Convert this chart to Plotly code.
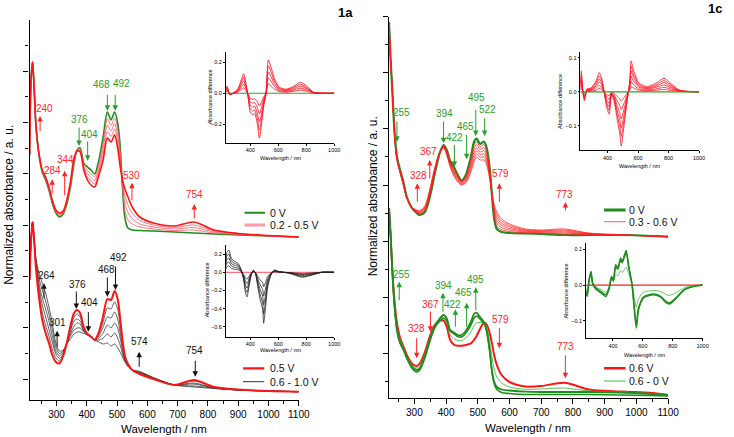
import plotly.graph_objects as go

# ---------------- data (normalized absorbance, a.u.; offset stacks) ----------------
L_WL = [211, 216, 221, 226, 232, 242, 253, 264, 275, 286, 298, 310, 322, 334, 346, 358, 368, 378, 390, 402,
        414, 426, 440, 454, 468, 480, 492, 502, 510, 518, 526, 536, 550, 575, 620, 690, 754, 820, 900, 1000, 1100]
LT_0V = [245, 320, 338, 313, 275, 245, 228, 220, 210, 197, 187, 183, 186, 196, 213, 237, 250, 252, 237, 233,
         230, 226, 240, 263, 288, 280, 288, 277, 255, 212, 182, 172, 170, 169.5, 169, 168, 167, 166, 165, 164, 163]
LT_02V = [245, 320, 338, 313, 275, 245.5, 228.5, 221, 211, 198, 188, 184, 187, 197, 214, 238, 250, 251, 235, 230,
          226, 223, 236, 257, 281.5, 274.5, 282, 271, 250, 214, 189, 180, 176, 173, 171, 169.5, 170, 167, 165.5, 164, 163]
LT_03V = [245, 320, 338, 313, 275, 246, 229, 221.5, 211.5, 198.5, 188.5, 185, 187.5, 198, 215.5, 239.5, 249.5, 250, 233.5, 226.5,
          222.5, 219.5, 232.5, 251.5, 275, 269, 276.5, 264.5, 244.5, 216, 196.5, 187.5, 181.5, 176, 173, 171, 172.5, 168, 166, 164, 163]
LT_04V = [245, 320, 338, 313, 275, 246.5, 229.5, 222, 212, 199, 189, 186, 188, 199, 217, 241, 249, 249, 232, 223,
          219, 216, 229, 246, 268.5, 263.5, 271, 258, 239, 218, 204, 195, 187, 179.5, 175, 172.5, 175, 169, 166.5, 164, 163]
LT_05V = [245, 320, 338, 313, 275, 247, 230, 223, 213, 200, 190, 187, 189, 200, 218, 242, 249, 248, 230, 220,
          215, 213, 225, 240, 262, 258, 265, 252, 234, 220, 211, 203, 193, 183, 177, 174, 178, 170, 166.5, 164.5, 163]

LB_05V = [120, 160, 178, 160, 132, 103, 80, 67, 57, 45, 38, 36.5, 44, 57, 74, 87, 90, 87, 73, 66,
          63.5, 60, 68, 84, 101, 100, 109, 101, 82, 60, 44, 36, 30, 26, 21, 15, 20, 13, 10.5, 9, 8.3]
LB_06V = [120, 160, 178, 160, 134, 108, 87, 75, 64, 51, 42, 39, 45, 57, 71, 83, 86, 83, 72, 66,
          63.5, 60, 66, 78, 92, 91, 98, 91, 75, 57, 43, 35.5, 30, 26.5, 21, 15, 19, 13, 10.5, 9, 8.3]
LB_07V = [120, 160, 178, 161, 136, 113, 95, 83, 71, 58, 46, 41.5, 46, 57, 69, 79, 81, 79, 70, 65.5,
          63.5, 60, 64, 73, 83, 82, 88, 81, 68, 53, 42, 35, 30, 27, 21.5, 15, 17, 12, 10, 9, 8.3]
LB_08V = [120, 160, 178, 161, 138, 117, 102, 91, 79, 64, 49, 44, 48, 56, 66, 74, 77, 76, 69, 65.5,
          63, 60, 62, 67, 75, 72, 77, 72, 62, 50, 40, 34.5, 30, 27.5, 22, 15, 16, 12, 10, 9, 8.3]
LB_09V = [120, 160, 178, 162, 140, 122, 110, 99, 86, 71, 53, 46.5, 49, 56, 64, 70, 72, 72, 68, 65,
          63, 60, 60, 62, 66, 63, 67, 62, 55, 46, 39, 34, 30, 28, 22, 15, 14, 12, 10, 9, 8.3]
LB_10V = [120, 160, 178, 162, 142, 127, 117, 107, 93, 77, 57, 49, 50, 56, 61, 66, 68, 68, 66.5, 65,
          63, 60, 58, 56, 57, 54, 56, 52, 48, 43, 38, 33.5, 30, 28.5, 22.5, 15, 13, 11.5, 10, 9, 8.3]

R_WL = [220, 225, 230, 237, 245, 255, 266, 276, 292, 307, 317, 333, 348, 364, 380, 392, 402, 413, 426, 437,
        449, 462, 478, 488, 496, 507, 519, 528, 538, 545, 552, 560, 575, 600, 650, 700, 774, 850, 950, 1050, 1100]
RT_0V = [376, 338, 310, 268, 241, 228, 215, 201, 190, 185, 183, 186, 200, 224, 245, 253, 248, 237, 230, 223,
         217.3, 223, 241, 256, 259.5, 254, 256.5, 250, 228, 201, 178, 169, 166, 165, 164.5, 164, 163, 163, 163, 162, 161.3]
RT_S1 = [376, 338, 310, 267.7, 240.5, 227.5, 214.5, 201, 190.2, 185.5, 183.75, 187, 201.3, 225, 245.2, 252.5, 247.2, 236, 228.5, 221.8,
         216.6, 221.7, 238.5, 252.7, 256.4, 251.3, 253.4, 247.2, 226.3, 201.3, 180.5, 171.8, 168.2, 166.5, 165.25, 164.7, 164, 163.3, 163, 162, 161.3]
RT_S2 = [376, 338, 310, 267.3, 240, 227, 214, 201, 190.3, 186, 184.5, 188, 202.7, 226, 245.3, 252, 246.3, 235, 227, 220.7,
         215.9, 220.3, 236, 249.3, 253.3, 248.7, 250.3, 244.3, 224.7, 201.7, 183, 174.7, 170.3, 168, 166, 165.3, 165, 163.7, 163, 162, 161.3]
RT_S3 = [376, 338, 310, 267, 239.5, 226.5, 213.5, 200.5, 190.5, 186.5, 185.25, 189, 204, 227, 245.5, 251.5, 245.5, 234, 225.5, 219.5,
         215.2, 219, 233.5, 246, 250.25, 246, 247.25, 241.5, 223, 202, 185.5, 177.5, 172.5, 169.5, 166.75, 166, 166, 164, 163, 162, 161.3]
RT_S4 = [376, 338, 310, 266.7, 239, 226, 213, 200.5, 190.7, 187, 186, 190, 205.3, 228, 245.7, 251, 244.7, 233, 224, 218.3,
         214.4, 217.7, 231, 242.7, 247.2, 243.3, 244.2, 238.7, 221.3, 202.3, 188, 180.3, 174.7, 171, 167.5, 166.7, 167, 164.3, 163, 162, 161.3]
RT_S5 = [376, 338, 310, 266.3, 238.5, 225.5, 212.5, 200.2, 190.8, 187.5, 186.75, 191, 206.7, 229, 245.8, 250.5, 243.8, 232, 222.5, 217.2,
         213.7, 216.3, 228.5, 239.3, 244.1, 240.7, 241.1, 235.8, 219.7, 202.7, 190.5, 183.2, 176.8, 172.5, 168.25, 167.3, 168, 164.7, 163, 162, 161.3]
RT_S6 = [376, 338, 310, 266, 238, 225, 212, 200, 191, 188, 187.5, 192, 208, 230, 246, 250, 243, 231, 221, 216,
         213, 215, 226, 236, 241, 238, 238, 233, 218, 203, 193, 186, 179, 174, 169, 168, 169, 165, 163, 162, 161.3]

RB_06V = [190, 163, 130, 98, 75, 60, 51, 43, 34.5, 32, 34.5, 46, 61, 73, 77.3, 77.3, 71.3, 58, 53, 52.3,
          52.3, 53, 54.7, 58, 62, 69, 75.3, 73.5, 64, 54, 42, 33, 23, 16, 11.5, 12, 15.3, 8.5, 6.5, 5, 3]
RB_0VA = [190, 163, 130, 93, 68, 55, 48, 40, 31.3, 28, 29.7, 42, 57.5, 72, 79.5, 83, 79.5, 68, 65.3, 63,
          63, 67, 76, 84, 85.3, 81, 76, 67, 46, 26, 16, 11, 8.5, 7.5, 6.3, 6, 6, 6, 5.5, 4, 3]
RB_0VB = [190, 163, 130, 93, 68, 55, 48, 40, 30, 26, 28, 40, 56, 70, 77, 80, 77, 67, 64, 61.5,
          61, 65, 73, 80, 82, 79, 75, 67, 46, 25, 14, 8.5, 5.5, 4.5, 3.5, 3.5, 3.5, 3.5, 3, 2.5, 2]
RB_03V = [190, 163, 130, 96, 72, 58, 49.5, 41.5, 33, 30, 32, 44, 59, 72.5, 78.5, 80, 75.5, 63, 59, 57.5,
          57.5, 60, 66, 72, 75, 75.5, 75.5, 71, 55, 40, 28, 21, 15, 11, 8.7, 9, 10, 7, 6, 4.5, 3]

# inset difference spectra
I1_WL = [226, 235, 254, 278, 313, 336, 353, 372, 384, 400, 419, 431, 449, 466, 482, 496, 513, 529, 548, 572,
         607, 654, 701, 760, 807, 854, 913, 1000]
I1_A = [0.03, 0.045, -0.01, 0.0, 0.03, 0.086, 0.125, 0.05, -0.02, -0.12, -0.14, -0.13, -0.19, -0.29, -0.19, -0.086,
        0.0, 0.215, 0.17, 0.097, 0.04, 0.026, 0.04, 0.071, 0.043, 0.006, 0.0, 0.0]
I1_B = [0.025, 0.037, -0.008, 0, 0.025, 0.071, 0.103, 0.041, -0.016, -0.098, -0.115, -0.107, -0.156, -0.238, -0.156, -0.071,
        0, 0.176, 0.139, 0.080, 0.033, 0.021, 0.033, 0.058, 0.035, 0.005, 0, 0]
I1_C = [0.019, 0.029, -0.006, 0, 0.019, 0.055, 0.080, 0.032, -0.013, -0.077, -0.090, -0.083, -0.122, -0.186, -0.122, -0.055,
        0, 0.138, 0.109, 0.062, 0.026, 0.017, 0.026, 0.045, 0.028, 0.004, 0, 0]
I1_D = [0.014, 0.021, -0.005, 0, 0.014, 0.040, 0.058, 0.023, -0.009, -0.055, -0.064, -0.060, -0.087, -0.133, -0.087, -0.040,
        0, 0.099, 0.078, 0.045, 0.018, 0.012, 0.018, 0.033, 0.020, 0.003, 0, 0]
I1_E = [0.008, 0.013, -0.003, 0, 0.008, 0.024, 0.035, 0.014, -0.006, -0.034, -0.039, -0.036, -0.053, -0.081, -0.053, -0.024,
        0, 0.060, 0.048, 0.027, 0.011, 0.007, 0.011, 0.020, 0.012, 0.002, 0, 0]

I2_WL = [223, 228, 239, 249, 266, 292, 325, 346, 361, 378, 395, 411, 426, 443, 465, 481, 490, 507, 529, 546,
         555, 572, 604, 658, 723, 770, 819, 873, 1000]
I2_A = [0.03, 0.062, 0, -0.026, 0.008, 0.011, 0.032, 0.057, 0.042, 0, -0.046, -0.066, -0.007, -0.026, -0.085, -0.124,
        -0.159, -0.105, -0.026, 0.032, 0.091, 0.062, 0.027, 0.015, 0.027, 0.040, 0.023, 0.005, 0]
I2_B = [0.025, 0.051, 0, -0.022, 0.007, 0.009, 0.027, 0.047, 0.035, 0, -0.038, -0.055, -0.006, -0.022, -0.071, -0.103,
        -0.132, -0.087, -0.022, 0.027, 0.076, 0.051, 0.022, 0.012, 0.022, 0.033, 0.019, 0.004, 0]
I2_C = [0.020, 0.042, 0, -0.017, 0.005, 0.007, 0.021, 0.038, 0.028, 0, -0.031, -0.044, -0.005, -0.017, -0.057, -0.083,
        -0.107, -0.070, -0.017, 0.021, 0.061, 0.042, 0.018, 0.010, 0.018, 0.027, 0.015, 0.003, 0]
I2_D = [0.015, 0.031, 0, -0.013, 0.004, 0.006, 0.016, 0.029, 0.021, 0, -0.023, -0.033, -0.004, -0.013, -0.043, -0.062,
        -0.080, -0.053, -0.013, 0.016, 0.046, 0.031, 0.014, 0.008, 0.014, 0.020, 0.012, 0.003, 0]
I2_E = [0.010, 0.020, 0, -0.009, 0.003, 0.004, 0.011, 0.019, 0.014, 0, -0.015, -0.022, -0.002, -0.009, -0.028, -0.041,
        -0.052, -0.035, -0.009, 0.011, 0.030, 0.020, 0.009, 0.005, 0.009, 0.013, 0.008, 0.002, 0]
I2_F = [0.005, 0.011, 0, -0.004, 0.001, 0.002, 0.005, 0.010, 0.007, 0, -0.008, -0.011, -0.001, -0.004, -0.014, -0.021,
        -0.027, -0.018, -0.004, 0.005, 0.015, 0.011, 0.005, 0.003, 0.005, 0.007, 0.004, 0.001, 0]

I3_WL = [226, 231, 247, 266, 289, 313, 336, 353, 367, 377, 391, 407, 423, 437, 454, 471, 489, 496, 508, 525,
         548, 572, 607, 677, 772, 842, 913, 1000]
I3_A = [0.13, 0.21, 0.245, 0.15, 0.12, 0.10, 0.025, -0.085, -0.23, -0.27, -0.16, -0.03, 0.025, -0.01, -0.16, -0.30,
        -0.41, -0.56, -0.41, -0.16, -0.03, 0.025, 0.007, -0.01, -0.055, -0.03, 0, 0]
I3_B = [0.107, 0.172, 0.201, 0.123, 0.098, 0.082, 0.021, -0.070, -0.189, -0.221, -0.131, -0.025, 0.021, -0.008, -0.131, -0.246,
        -0.336, -0.459, -0.336, -0.131, -0.025, 0.021, 0.006, -0.008, -0.045, -0.025, 0, 0]
I3_C = [0.083, 0.134, 0.157, 0.096, 0.077, 0.064, 0.016, -0.054, -0.147, -0.173, -0.102, -0.019, 0.016, -0.006, -0.102, -0.192,
        -0.262, -0.358, -0.262, -0.102, -0.019, 0.016, 0.004, -0.006, -0.035, -0.019, 0, 0]
I3_D = [0.060, 0.097, 0.113, 0.069, 0.055, 0.046, 0.012, -0.039, -0.106, -0.124, -0.074, -0.014, 0.012, -0.005, -0.074, -0.138,
        -0.189, -0.258, -0.189, -0.074, -0.014, 0.012, 0.003, -0.005, -0.025, -0.014, 0, 0]
I3_E = [0.036, 0.059, 0.069, 0.042, 0.034, 0.028, 0.007, -0.024, -0.064, -0.076, -0.045, -0.008, 0.007, -0.003, -0.045, -0.084,
        -0.115, -0.157, -0.115, -0.045, -0.008, 0.007, 0.002, -0.003, -0.015, -0.008, 0, 0]

I4_WL = [220, 227, 240, 253, 264, 286, 319, 352, 374, 390, 403, 418, 433, 451, 462, 488, 506, 528, 543, 556,
         571, 604, 670, 714, 759, 780, 825, 879, 934, 1000]
I4_A = [-0.02, -0.032, 0.015, 0.038, 0.006, -0.008, -0.018, -0.027, -0.008, 0.024, 0.015, 0.057, 0.048, 0.076, 0.066, 0.097,
        0.052, 0.001, -0.069, -0.12, -0.069, -0.036, -0.027, -0.032, -0.050, -0.053, -0.036, -0.013, -0.004, 0]
I4_B = [-0.018, -0.03, 0.012, 0.035, 0.003, -0.012, -0.022, -0.032, -0.012, 0.02, 0.012, 0.052, 0.044, 0.07, 0.062, 0.09,
        0.048, 0.0, -0.064, -0.112, -0.064, -0.033, -0.025, -0.03, -0.047, -0.05, -0.034, -0.012, -0.004, 0]
I4_C = [-0.01, -0.02, 0.01, 0.03, 0.003, -0.006, -0.012, -0.02, -0.006, 0.015, 0.01, 0.03, 0.025, 0.04, 0.035, 0.05,
        0.03, 0.002, -0.035, -0.062, -0.038, -0.02, -0.015, -0.017, -0.027, -0.029, -0.02, -0.007, -0.002, 0]

BASE_X = [200, 1000]
BASE_Y = [0, 0]

# ---------------- styles ----------------
RED = "#ff1414"
PINK = "#ff5566"
GREEN = "#1e8c1e"
LGREEN = "#3cbf3c"
TXT_RED = "#ff2424"
TXT_GREEN = "#27a027"
FONT = "Liberation Sans, Arial, sans-serif"
W, H = 734, 437

fig = go.Figure()


def line(x, y, color, width, xa, ya, smooth=0.8):
    fig.add_trace(go.Scatter(x=x, y=y, mode="lines", xaxis=xa, yaxis=ya,
                             line=dict(color=color, width=width, shape="spline", smoothing=smooth),
                             hoverinfo="skip", showlegend=False))


# left panel
line(L_WL, LT_0V, GREEN, 1.6, "x", "y")
for s in (LT_02V, LT_03V, LT_04V):
    line(L_WL, s, PINK, 0.8, "x", "y")
line(L_WL, LT_05V, RED, 1.6, "x", "y")
for s in (LB_10V, LB_09V, LB_08V, LB_07V, LB_06V):
    line(L_WL, s, "#3a3a3a", 0.8, "x", "y")
line(L_WL, LB_05V, RED, 2.0, "x", "y")

# right panel
line(R_WL, RT_0V, GREEN, 2.2, "x2", "y2")
for s in (RT_S1, RT_S2, RT_S3, RT_S4, RT_S5, RT_S6):
    line(R_WL, s, "#ff2020", 0.75, "x2", "y2")
line(R_WL, RB_06V, RED, 2.0, "x2", "y2")
line(R_WL, RB_03V, LGREEN, 0.9, "x2", "y2")
line(R_WL, RB_0VB, GREEN, 1.6, "x2", "y2")
line(R_WL, RB_0VA, GREEN, 1.8, "x2", "y2")

# insets
line(BASE_X, BASE_Y, "#2aa52a", 1.2, "x3", "y3")
for s in (I1_A, I1_B, I1_C, I1_D, I1_E):
    line(I1_WL, s, "#ff1020", 0.85, "x3", "y3", 0.6)
for s in (I2_A, I2_B, I2_C, I2_D, I2_E, I2_F):
    line(I2_WL, s, "#ff1020", 0.8, "x4", "y4", 0.6)
line(BASE_X, BASE_Y, "#2aa52a", 1.2, "x4", "y4")
line(BASE_X, BASE_Y, "#ff7080", 1.2, "x5", "y5")
for s in (I3_A, I3_B, I3_C, I3_D, I3_E):
    line(I3_WL, s, "#222222", 0.8, "x5", "y5", 0.6)
line(BASE_X, BASE_Y, "#ff1a1a", 1.4, "x6", "y6")
line(I4_WL, I4_C, LGREEN, 0.8, "x6", "y6", 0.6)
line(I4_WL, I4_B, GREEN, 1.3, "x6", "y6", 0.6)
line(I4_WL, I4_A, GREEN, 1.5, "x6", "y6", 0.6)


def dx(a, b):
    return [a / W, b / W]


def dy(top, bottom):
    return [1 - bottom / H, 1 - top / H]


main_x = dict(showline=True, linecolor="black", linewidth=1.3, ticks="outside", ticklen=5, tickwidth=1.1,
              tickcolor="black", tick0=0, dtick=100, showgrid=False, zeroline=False,
              minor=dict(ticks="outside", ticklen=3, tickwidth=1, tickcolor="black", dtick=50),
              tickfont=dict(size=10, color="black", family=FONT))
main_y = dict(showline=True, linecolor="black", linewidth=1.3, ticks="outside", ticklen=5, tickwidth=1.1,
              tickcolor="black", showgrid=False, zeroline=False, showticklabels=False)
ins_x = dict(showline=True, linecolor="black", linewidth=0.8, ticks="outside", ticklen=2, tickwidth=0.7,
             tickcolor="black", tickvals=[400, 600, 800, 1000], showgrid=False, zeroline=False,
             tickfont=dict(size=5.5, color="black", family=FONT))
ins_y = dict(showline=True, linecolor="black", linewidth=0.8, ticks="outside", ticklen=2, tickwidth=0.7,
             tickcolor="black", showgrid=False, zeroline=False, tickformat=".1f",
             tickfont=dict(size=5.5, color="black", family=FONT))

fig.update_layout(
    width=W, height=H, margin=dict(l=0, r=0, t=0, b=0),
    paper_bgcolor="white", plot_bgcolor="rgba(0,0,0,0)", showlegend=False,
    font=dict(family=FONT, color="black"),
    xaxis=dict(main_x, domain=dx(30, 303.3), range=[211, 1100], anchor="y"),
    yaxis=dict(main_y, domain=dy(20, 400), range=[0, 380], tick0=21, dtick=51.3,
               minor=dict(ticks="outside", ticklen=3, tickwidth=1, tickcolor="black", dtick=25.65, tick0=21),
               anchor="x"),
    xaxis2=dict(main_x, domain=dx(395, 678.3), range=[220.2, 1100], anchor="y2"),
    yaxis2=dict(main_y, domain=dy(16.7, 398), range=[0, 381.3], tick0=44.7, dtick=56.1,
                minor=dict(ticks="outside", ticklen=3, tickwidth=1, tickcolor="black", dtick=28.05, tick0=44.7),
                anchor="x2"),
    xaxis3=dict(ins_x, domain=dx(229.3, 339.3), range=[226, 1000], anchor="y3"),
    yaxis3=dict(ins_y, domain=dy(51.7, 142.7), range=[-0.319, 0.268], tickvals=[-0.2, 0, 0.2], anchor="x3"),
    xaxis4=dict(ins_x, domain=dx(589.3, 709.7), range=[223, 1000], anchor="y4"),
    yaxis4=dict(ins_y, domain=dy(51.7, 150), range=[-0.171, 0.118], tickvals=[-0.1, 0, 0.1], anchor="x4"),
    xaxis5=dict(ins_x, domain=dx(229.3, 339.3), range=[226, 1000], anchor="y5"),
    yaxis5=dict(ins_y, domain=dy(245, 336.7), range=[-0.708, 0.30], tickvals=[-0.6, -0.4, -0.2, 0, 0.2], anchor="x5"),
    xaxis6=dict(ins_x, domain=dx(595, 713.3), range=[220, 1000], anchor="y6"),
    yaxis6=dict(ins_y, domain=dy(243.3, 338.3), range=[-0.149, 0.117], tickvals=[-0.1, 0, 0.1], anchor="x6"),
)

ann = []
shapes = []

# peak labels with arrows: (text, text_x, text_y, arrow_x, tail_y, tip_y, color)
LEFT_LABELS = [
    ("240", 258.8, 291, 245.8, 267.3, 284, TXT_RED),
    ("284", 285.8, 229.3, 285.8, 205, 220.7, TXT_RED),
    ("344", 329, 241, 327, 203.3, 229.3, TXT_RED),
    ("376", 374.6, 280.7, 374.6, 274, 254, TXT_GREEN),
    ("404", 408.4, 265.7, 402.9, 260, 239.3, TXT_GREEN),
    ("468", 448.4, 315.7, 468, 306.7, 289.3, TXT_GREEN),
    ("492", 513.4, 316.7, 493.9, 306.7, 289.3, TXT_GREEN),
    ("530", 549.2, 225, 549.2, 198.3, 217.3, TXT_RED),
    ("754", 755, 206, 755, 180, 196, TXT_RED),
    ("264", 266.3, 125, 258.8, 100, 116.7, "#111111"),
    ("301", 304.3, 78, 302, 51.7, 69.3, "#111111"),
    ("376", 369.4, 116, 365.5, 110, 91, "#111111"),
    ("404", 408.4, 98, 405.2, 89.3, 68.3, "#111111"),
    ("468", 464.7, 130.7, 468, 124, 103.3, "#111111"),
    ("492", 504.7, 142.7, 494.9, 135, 110, "#111111"),
    ("574", 575.2, 58.3, 573, 31.7, 48.3, "#111111"),
    ("754", 756.4, 49.3, 758.3, 40.7, 23.3, "#111111"),
]
RIGHT_LABELS = [
    ("255", 258.4, 285.3, 245, 278, 256.3, TXT_GREEN),
    ("394", 394.1, 284.7, 392, 278, 254.7, TXT_GREEN),
    ("422", 426.1, 260.7, 426.1, 254.7, 231.3, TXT_GREEN),
    ("465", 461.5, 271.3, 464.6, 264.7, 238.7, TXT_GREEN),
    ("495", 495.7, 300.3, 493.5, 289.7, 262, TXT_GREEN),
    ("522", 529.8, 288, 521.4, 281.3, 262, TXT_GREEN),
    ("367", 346, 247, 348.5, 218, 238, TXT_RED),
    ("328", 312.4, 222.3, 309.3, 194.7, 214.7, TXT_RED),
    ("579", 571.1, 224.7, 568, 194.7, 214.7, TXT_RED),
    ("773", 774, 204, 776, 186, 196, TXT_RED),
    ("255", 260.6, 124, 252.2, 96.3, 116.3, TXT_GREEN),
    ("394", 393.2, 113, 390, 84.7, 105.3, TXT_GREEN),
    ("367", 351.6, 94, 350.6, 88, 66.3, TXT_RED),
    ("422", 421.1, 94, 429.2, 69.7, 88.7, TXT_GREEN),
    ("465", 455.3, 105.7, 464.6, 69.7, 95.3, TXT_GREEN),
    ("495", 493.5, 119, 493.5, 86.3, 110.7, TXT_GREEN),
    ("328", 307.2, 69.7, 307.2, 61.3, 39.7, TXT_RED),
    ("579", 571.1, 78.7, 568, 71.3, 49.7, TXT_RED),
    ("773", 776, 51.3, 776, 44, 19.7, TXT_RED),
]
for labels, xr, yr in ((LEFT_LABELS, "x", "y"), (RIGHT_LABELS, "x2", "y2")):
    for t, tx, ty, axx, y0, y1, c in labels:
        ann.append(dict(x=tx, y=ty, xref=xr, yref=yr, text=t, showarrow=False,
                        xanchor="center", yanchor="middle",
                        font=dict(size=10, color=c, family=FONT)))
        ann.append(dict(x=axx, y=y1, ax=axx, ay=y0, xref=xr, yref=yr, axref=xr, ayref=yr, text="",
                        showarrow=True, arrowhead=2, arrowsize=1.1, arrowwidth=1, arrowcolor=c,
                        standoff=0, startstandoff=0))

# legends: (x0, x1, y, color, width, text, text_x)
LEGENDS = [
    ("x", "y", 921, 989, 187.3, GREEN, 2, "0 V", 1000),
    ("x", "y", 921, 989, 175, "#ff9aa6", 3, "0.2 - 0.5 V", 1000),
    ("x", "y", 916, 986, 31.7, RED, 2.2, "0.5 V", 997),
    ("x", "y", 916, 986, 18.3, "#333333", 1, "0.6 - 1.0 V", 997),
    ("x2", "y2", 898, 966, 188, GREEN, 3, "0 V", 971),
    ("x2", "y2", 898, 966, 176.3, "#ff5a5a", 1, "0.3 - 0.6 V", 971),
    ("x2", "y2", 898, 966, 29.7, RED, 2.5, "0.6 V", 971),
    ("x2", "y2", 898, 966, 17, LGREEN, 1.2, "0.6 - 0 V", 971),
]
for xr, yr, x0, x1, yy, c, w, t, tx in LEGENDS:
    shapes.append(dict(type="line", xref=xr, yref=yr, x0=x0, x1=x1, y0=yy, y1=yy, line=dict(color=c, width=w)))
    ann.append(dict(x=tx, y=yy, xref=xr, yref=yr, text=t, showarrow=False, xanchor="left", yanchor="middle",
                    font=dict(size=10.5, color="#111111", family=FONT)))

# axis titles and panel labels (paper coordinates from pixel positions)
def paper(px, py):
    return px / W, 1 - py / H


def ptext(px, py, text, size, angle=0, bold=False):
    x, y = paper(px, py)
    ann.append(dict(x=x, y=y, xref="paper", yref="paper", text=("<b>%s</b>" % text) if bold else text,
                    showarrow=False, textangle=angle, xanchor="center", yanchor="middle",
                    font=dict(size=size, color="black", family=FONT)))


ptext(166.7, 429, "Wavelength / nm", 11.5)
ptext(536, 427.7, "Wavelength / nm", 11.5)
ptext(9, 205, "Normalized absorbance / a. u.", 12, -90)
ptext(379, 196, "Normalized absorbance / a. u.", 12, -90)
ptext(351, 12, "1a", 13, bold=True)
ptext(726, 8, "1c", 13, bold=True)
# inset titles
ptext(284.3, 158, "Wavelength / nm", 5.5)
ptext(213.5, 97, "Absorbance difference", 5.5, -90)
ptext(649.5, 165.5, "Wavelength / nm", 5.5)
ptext(568.5, 101, "Absorbance difference", 5.5, -90)
ptext(284.3, 350, "Wavelength / nm", 5.5)
ptext(210.5, 290, "Absorbance difference", 5.5, -90)
ptext(654, 354.5, "Wavelength / nm", 5.5)
ptext(575, 291, "Absorbance difference", 5.5, -90)

fig.update_layout(annotations=ann, shapes=shapes)
fig.write_html("out.html", config={"displayModeBar": False},
               post_script="document.body.style.margin='0';document.body.style.overflow='hidden';")
